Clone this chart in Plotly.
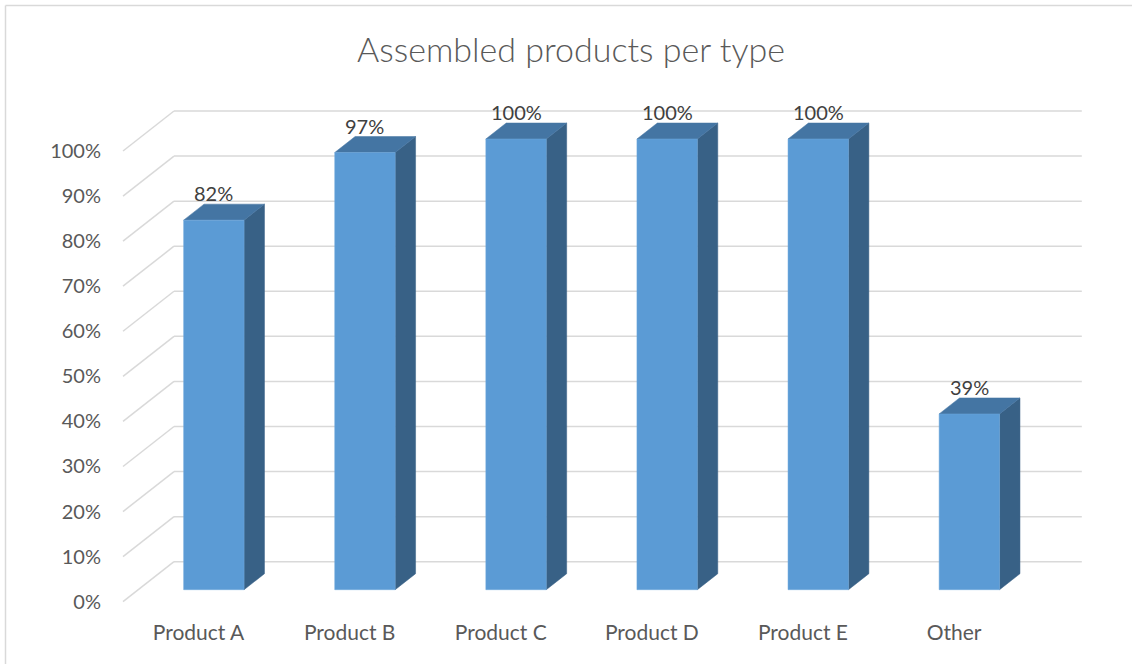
import plotly.graph_objects as go

# ---------------- data ----------------
categories = ["Product A", "Product B", "Product C", "Product D", "Product E", "Other"]
values = [82, 97, 100, 100, 100, 39]
y_ticks = [0, 10, 20, 30, 40, 50, 60, 70, 80, 90, 100]
y_tick_labels = [f"{v}%" for v in y_ticks]
label_texts = [f"{v}%" for v in values]
title_text = "Assembled products per type"

# ---------------- geometry (pixels) ----------------
W, H = 1132, 664
X_FRONT0 = 123.0      # px of front-left corner of the floor
CAT_PX = 151.1        # px per category
Y_ZERO = 601.7        # px of 0% on front plane
PCT_PX = 4.507        # px per percent
DEPTH_DX, DEPTH_DY = 51.0, 40.0   # px offset front -> back wall

PL, PR, PT, PB = 110, 1090, 95, 612   # plot area in px

dxu = DEPTH_DX / CAT_PX
dyu = DEPTH_DY / PCT_PX
x_range = [(PL - X_FRONT0) / CAT_PX, (PR - X_FRONT0) / CAT_PX]
y_range = [(Y_ZERO - PB) / PCT_PX, (Y_ZERO - PT) / PCT_PX]

n = len(categories)
GRID = "#D9D9D9"
FRONT = "#5B9BD5"
TOP = "#4475A3"
SIDE = "#386186"
FONT = "Lato"

fig = go.Figure()

shapes = []
# back wall gridlines + left wall diagonals
for v in y_ticks:
    shapes.append(dict(type="line", xref="x", yref="y", x0=0, y0=v, x1=dxu, y1=v + dyu,
                       line=dict(color=GRID, width=1.5), layer="below"))
    shapes.append(dict(type="line", xref="x", yref="y", x0=dxu, y0=v + dyu, x1=n + dxu + 0.008, y1=v + dyu,
                       line=dict(color=GRID, width=1.5), layer="below"))

# 3D bars
t0, t1 = 0.3, 0.7   # depth position of bar (front/back)
bw0, bw1 = 0.3, 0.7  # bar extent within category
for i, v in enumerate(values):
    x0 = i + bw0 + t0 * dxu
    x1 = i + bw1 + t0 * dxu
    yb = t0 * dyu
    yt = v + t0 * dyu
    ddx = (t1 - t0) * dxu
    ddy = (t1 - t0) * dyu
    # side face
    fig.add_trace(go.Scatter(x=[x1, x1, x1 + ddx, x1 + ddx, x1], y=[yb, yt, yt + ddy, yb + ddy, yb],
                             fill="toself", fillcolor=SIDE, mode="lines", line=dict(width=0.5, color=SIDE),
                             hoverinfo="skip", showlegend=False))
    # top face
    fig.add_trace(go.Scatter(x=[x0, x1, x1 + ddx, x0 + ddx, x0], y=[yt, yt, yt + ddy, yt + ddy, yt],
                             fill="toself", fillcolor=TOP, mode="lines", line=dict(width=0.5, color=TOP),
                             hoverinfo="skip", showlegend=False))
    # front face
    fig.add_trace(go.Scatter(x=[x0, x1, x1, x0, x0], y=[yb, yb, yt, yt, yb],
                             fill="toself", fillcolor=FRONT, mode="lines", line=dict(width=0.5, color="#6FA8DC"),
                             hoverinfo="skip", showlegend=False, name=categories[i]))

annotations = []
for i, v in enumerate(values):
    annotations.append(dict(x=i + 0.5 + t0 * dxu, y=v + t1 * dyu, xref="x", yref="y",
                            text=label_texts[i], showarrow=False, yanchor="middle", yshift=11,
                            font=dict(family=FONT, size=20, color="#404040")))

# chart frame (left and top borders)
px2x = lambda px: (px - PL) / (PR - PL)
py2y = lambda py: (PB - py) / (PB - PT)
shapes.append(dict(type="line", xref="paper", yref="paper", x0=px2x(5.5), y0=py2y(5.5), x1=px2x(5.5), y1=py2y(H + 5),
                   line=dict(color="#D9D9D9", width=1.5)))
shapes.append(dict(type="line", xref="paper", yref="paper", x0=px2x(5.5), y0=py2y(5.5), x1=px2x(W + 5), y1=py2y(5.5),
                   line=dict(color="#D9D9D9", width=1.5)))

fig.update_layout(
    width=W, height=H,
    margin=dict(l=PL, r=W - PR, t=PT, b=H - PB),
    paper_bgcolor="white", plot_bgcolor="white",
    showlegend=False,
    shapes=shapes, annotations=annotations,
    title=dict(text=title_text, x=571 / W, xanchor="center", y=1 - 50 / H, yanchor="middle",
               yref="container", font=dict(family=FONT, size=34, color="#595959", weight=300)),
    xaxis=dict(range=x_range, tickmode="array", tickvals=[i + 0.5 for i in range(n)], ticktext=categories,
               showgrid=False, zeroline=False, showline=False, ticks="", fixedrange=True,
               tickfont=dict(family=FONT, size=21, color="#595959"), ticklabelstandoff=6),
    yaxis=dict(range=y_range, tickmode="array", tickvals=y_ticks, ticktext=y_tick_labels,
               showgrid=False, zeroline=False, showline=False, ticks="", fixedrange=True,
               tickfont=dict(family=FONT, size=20, color="#595959"), ticklabelstandoff=8),
)

fig.write_html("out.html")
